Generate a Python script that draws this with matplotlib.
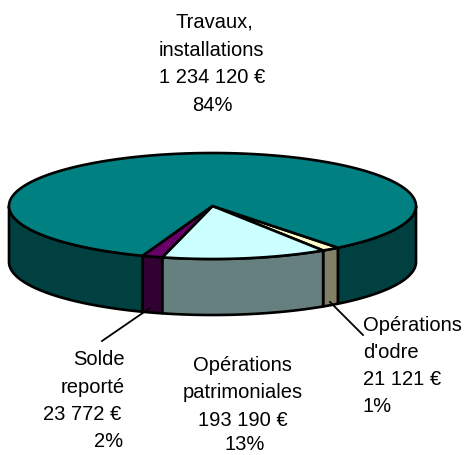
import numpy as np
import matplotlib
matplotlib.use("Agg")
import matplotlib.pyplot as plt
from matplotlib.patches import Polygon

plt.rcParams['font.family'] = ['Liberation Sans', 'DejaVu Sans']

# order follows the pie clockwise from the right side
categories = ["Opérations d'odre", "Opérations patrimoniales", "Solde reporté", "Travaux, installations"]
values = [21121, 193190, 23772, 1234120]
top_colors = ["#FFFFCC", "#CCFFFF", "#660066", "#008080"]
side_colors = ["#808066", "#668080", "#330033", "#004040"]

# geometry of the flattened pie, in pixels
cx, cy = 212.5, 206
rx, ry = 203.5, 53
depth = 56
start_angle = 51.9


def rim(a0, a1):
    t = np.radians(np.linspace(a0, a1, max(int(abs(a1 - a0) * 2), 2)))
    return np.column_stack([cx + rx * np.cos(t), cy + ry * np.sin(t)])


fig = plt.figure(figsize=(4.66, 4.55), dpi=100)
ax = fig.add_axes([0, 0, 1, 1])
ax.set_xlim(0, 466)
ax.set_ylim(455, 0)
ax.axis("off")

sweeps = np.array(values) / sum(values) * 360
edges = start_angle + np.concatenate([[0], np.cumsum(sweeps)])

# side wall first, only the front half (0 to 180 deg) can be seen
for i in range(len(values)):
    for lo, hi in [(edges[i], edges[i + 1]), (edges[i] - 360, edges[i + 1] - 360)]:
        a0, a1 = max(lo, 0), min(hi, 180)
        if a1 <= a0:
            continue
        up = rim(a0, a1)
        down = up[::-1] + [0, depth]
        ax.add_patch(Polygon(np.vstack([up, down]), closed=True, fc=side_colors[i],
                             ec="black", lw=1.9, joinstyle="round", zorder=2))

# top face
for i in range(len(values)):
    pts = np.vstack([[cx, cy], rim(edges[i], edges[i + 1])])
    ax.add_patch(Polygon(pts, closed=True, fc=top_colors[i], ec="black", lw=1.9,
                         joinstyle="round", zorder=3))

# leader lines
ax.plot([150, 102], [308, 341], color="black", lw=1.3, zorder=4)
ax.plot([330, 363], [302, 335], color="black", lw=1.3, zorder=4)

# labels, each line placed at its left edge and baseline
fs = 14.5
labels = [
    (175, 28, "Travaux,"), (159, 56, "installations"), (159, 83, "1 234 120 €"), (192, 111, "84%"),
    (193, 371, "Opérations"), (183, 398, "patrimoniales"), (198, 426, "193 190 €"), (224, 450.5, "13%"),
    (73, 365, "Solde"), (61, 393, "reporté"), (43, 420, "23 772 €"), (94, 447, "2%"),
    (363, 331, "Opérations"), (363, 358, "d'odre"), (363, 385, "21 121 €"), (363, 412, "1%"),
]
for x, y, s in labels:
    ax.text(x, y, s, ha="left", va="baseline", fontsize=fs, color="black", zorder=5)

fig.savefig("out.png", dpi=100, facecolor="white")
